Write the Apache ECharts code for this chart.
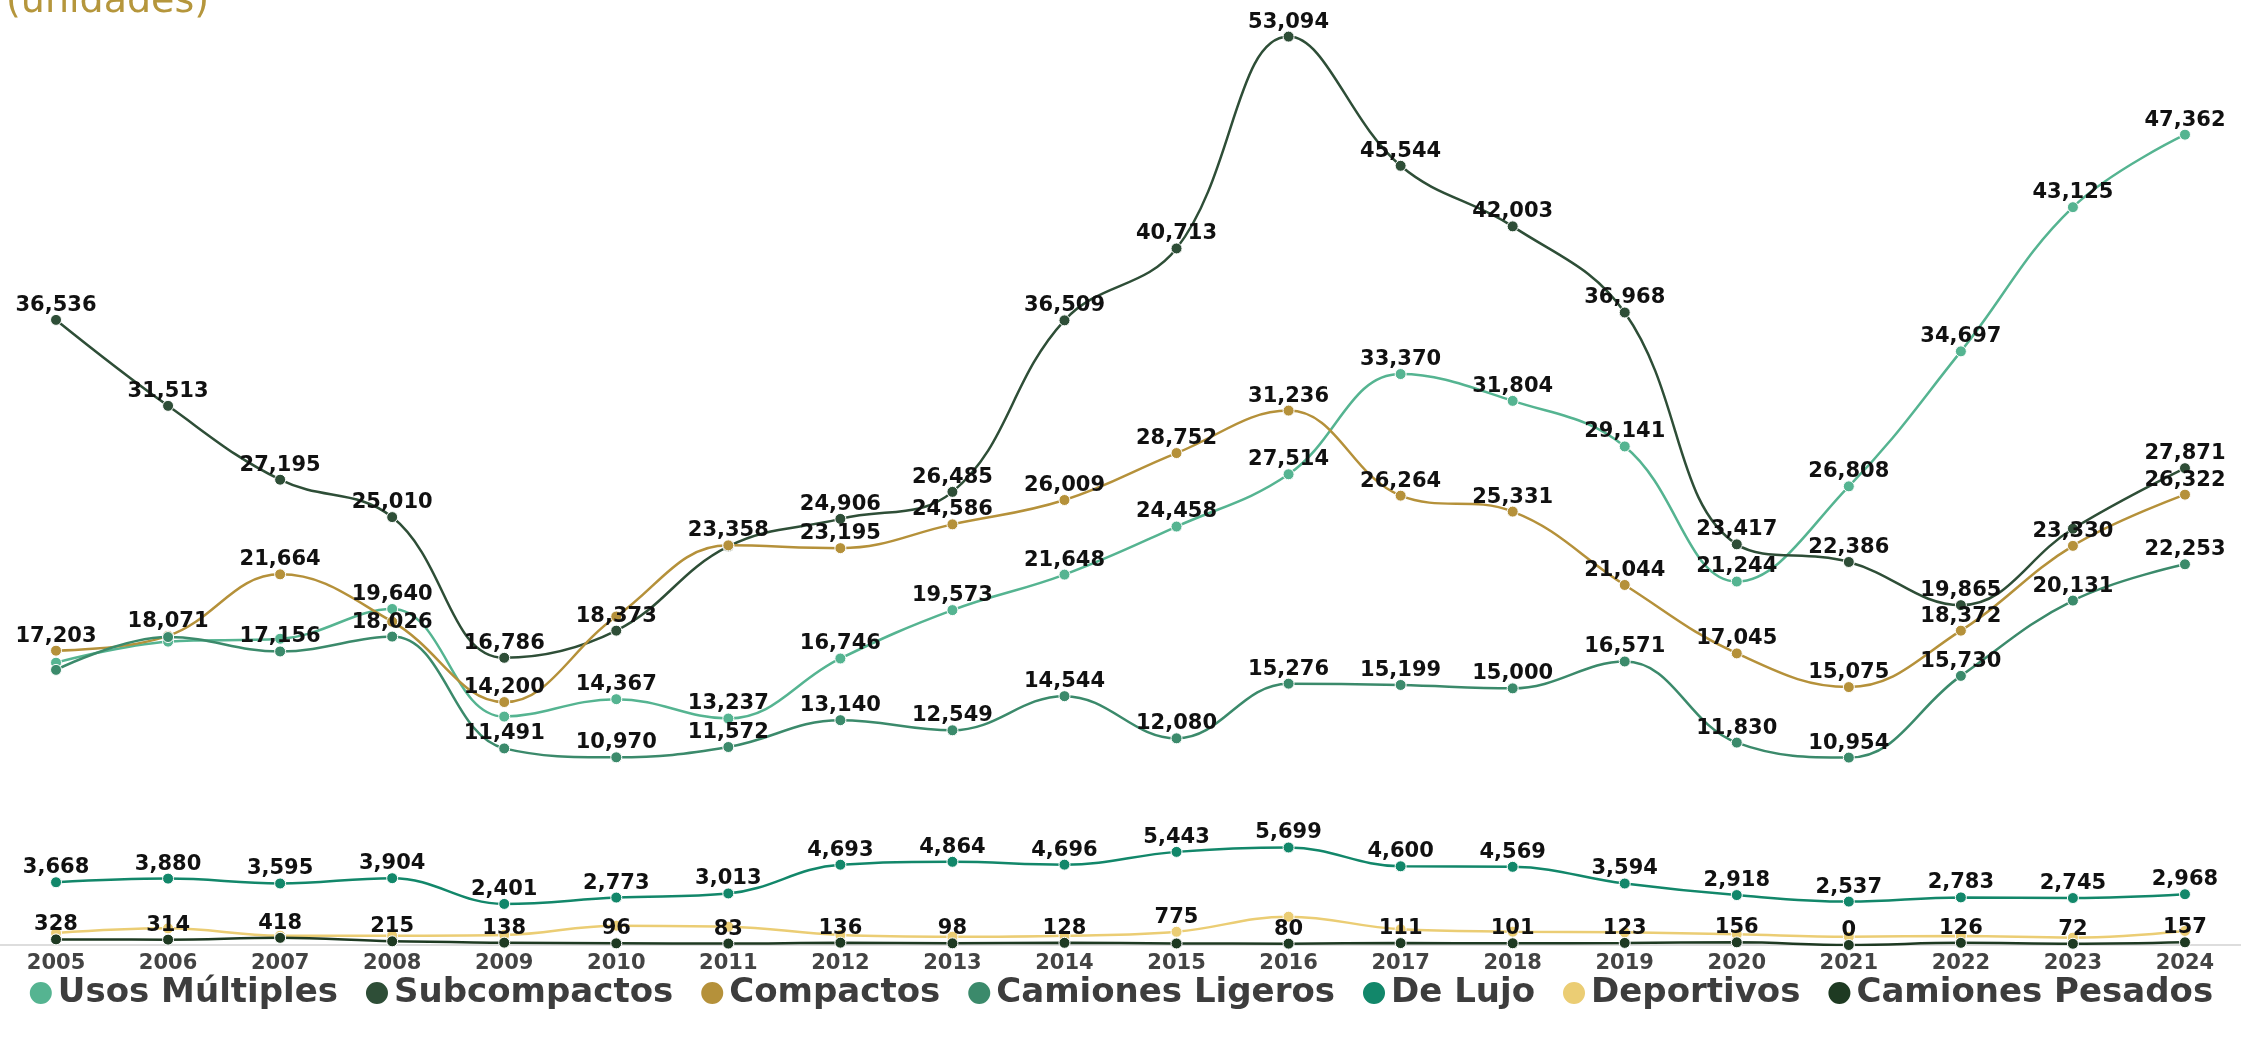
<!DOCTYPE html>
<html>
<head>
<meta charset="utf-8">
<title>Producción por segmento (unidades)</title>
<script src="https://cdn.jsdelivr.net/npm/echarts@6/dist/echarts.min.js"></script>
<style>
  html, body { margin: 0; padding: 0; background: #fff; }
  #chart { width: 2241px; height: 1049px; }
</style>
</head>
<body>
<div id="chart"></div>
<script>
// categorias (años)
const years = ['2005', '2006', '2007', '2008', '2009', '2010', '2011', '2012', '2013', '2014',
  '2015', '2016', '2017', '2018', '2019', '2020', '2021', '2022', '2023', '2024']

// valores por segmento
const usosMultiples = [16500, 17730, 17900, 19640, 13350, 14367, 13237, 16746, 19573, 21648,
  24458, 27514, 33370, 31804, 29141, 21244, 26808, 34697, 43125, 47362]
const subcompactos = [36536, 31513, 27195, 25010, 16786, 18373, 23300, 24906, 26485, 36509,
  40713, 53094, 45544, 42003, 36968, 23417, 22386, 19865, 24330, 27871]
const compactos = [17203, 18071, 21664, 18900, 14200, 19200, 23358, 23195, 24586, 26009,
  28752, 31236, 26264, 25331, 21044, 17045, 15075, 18372, 23330, 26322]
const camionesLigeros = [16080, 18000, 17156, 18026, 11491, 10970, 11572, 13140, 12549, 14544,
  12080, 15276, 15199, 15000, 16571, 11830, 10954, 15730, 20131, 22253]
const deLujo = [3668, 3880, 3595, 3904, 2401, 2773, 3013, 4693, 4864, 4696,
  5443, 5699, 4600, 4569, 3594, 2918, 2537, 2783, 2745, 2968]
const deportivos = [700, 975, 545, 545, 585, 1130, 1070, 585, 485, 545,
  775, 1655, 918, 780, 740, 625, 485, 525, 430, 820]
const camionesPesados = [328, 314, 418, 215, 138, 96, 83, 136, 98, 128,
  90, 80, 111, 101, 123, 156, 0, 126, 72, 157]

// etiquetas que no se muestran (se enciman en el original)
const hiddenUsos = [0, 1, 2, 4]
const hiddenSub = [6, 18]
const hiddenComp = [3, 5]
const hiddenLigeros = [0, 1]
const hiddenLujo = []
const hiddenDeportivos = [0, 1, 2, 3, 4, 5, 6, 7, 8, 9, 11, 12, 13, 14, 15, 16, 17, 18, 19]
const hiddenPesados = [10]

const font = '"DejaVu Sans", sans-serif'

function lineSeries(name, values, color, hidden) {
  return {
    name: name,
    type: 'line',
    smooth: 0.4,
    symbol: 'circle',
    symbolSize: 11,
    data: values.map((v, i) => hidden.indexOf(i) > -1 ? { value: v, label: { show: false } } : v),
    lineStyle: { color: color, width: 2.5 },
    itemStyle: { color: color, borderColor: '#fff', borderWidth: 1 },
    label: {
      show: true,
      position: 'top',
      distance: -2,
      color: '#111',
      fontFamily: font,
      fontWeight: 'bold',
      fontSize: 21,
      formatter: p => Number(p.value).toLocaleString('en-US')
    }
  }
}

const chart = echarts.init(document.getElementById('chart'))
chart.setOption({
  animation: false,
  backgroundColor: '#fff',
  graphic: [{
    type: 'text',
    left: 6,
    top: -17,
    style: { text: '(unidades)', fill: '#b5963c', font: '38px "DejaVu Sans"' }
  }],
  legend: {
    data: ['Usos Múltiples', 'Subcompactos', 'Compactos', 'Camiones Ligeros', 'De Lujo', 'Deportivos', 'Camiones Pesados'],
    icon: 'circle',
    itemWidth: 24,
    itemHeight: 24,
    itemGap: 26,
    padding: 0,
    left: 'center',
    top: 976,
    textStyle: { color: '#3d3d3d', fontFamily: font, fontWeight: 'bold', fontSize: 34 }
  },
  grid: { left: -3, right: -16, top: 4, bottom: 104 },
  xAxis: {
    type: 'category',
    data: years,
    boundaryGap: true,
    axisLine: { lineStyle: { color: '#dddddd', width: 2 } },
    axisTick: { show: false },
    axisLabel: { color: '#444', fontFamily: font, fontWeight: 'bold', fontSize: 21, margin: 8 }
  },
  yAxis: {
    type: 'value',
    min: 0,
    max: 55000,
    show: false,
    splitLine: { show: false }
  },
  series: [
    lineSeries('Usos Múltiples', usosMultiples, '#55b491', hiddenUsos),
    lineSeries('Subcompactos', subcompactos, '#2e4e37', hiddenSub),
    lineSeries('Compactos', compactos, '#b5913a', hiddenComp),
    lineSeries('Camiones Ligeros', camionesLigeros, '#3b8a6b', hiddenLigeros),
    lineSeries('De Lujo', deLujo, '#12876a', hiddenLujo),
    lineSeries('Deportivos', deportivos, '#ebcd74', hiddenDeportivos),
    lineSeries('Camiones Pesados', camionesPesados, '#1e3a22', hiddenPesados)
  ]
})
</script>
</body>
</html>
